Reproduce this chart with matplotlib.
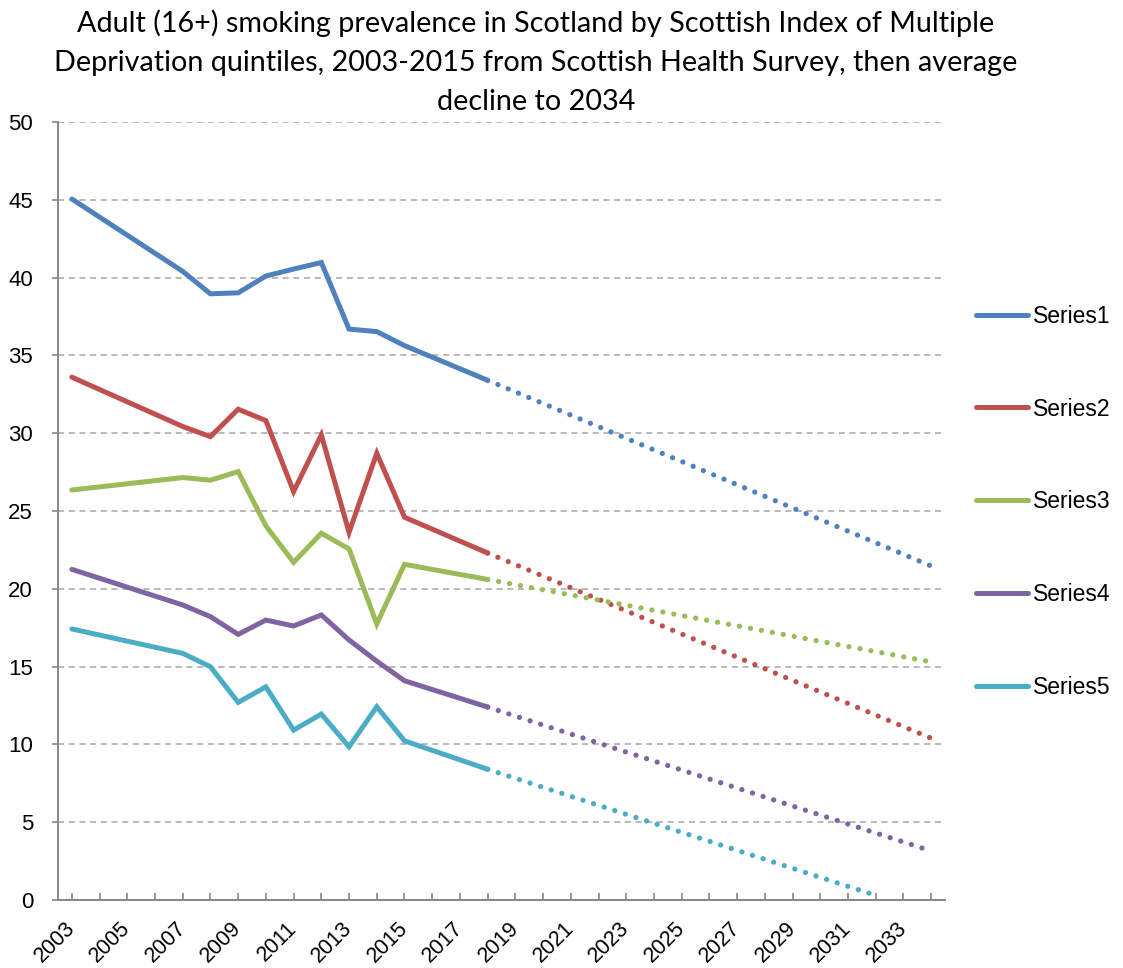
import numpy as np
import matplotlib
matplotlib.use("Agg")
import matplotlib.pyplot as plt

# Survey years (2003, then 2007-2015) plus the 2018 point where the projection starts
years = [2003, 2007, 2008, 2009, 2010, 2011, 2012, 2013, 2014, 2015, 2018]

series1 = [45.05, 40.4, 38.96, 39.02, 40.1, 40.55, 40.97, 36.69, 36.53, 35.63, 33.4]
series2 = [33.6, 30.43, 29.78, 31.54, 30.81, 26.25, 29.89, 23.63, 28.71, 24.6, 22.3]
series3 = [26.35, 27.15, 26.98, 27.53, 24.04, 21.7, 23.57, 22.56, 17.74, 21.57, 20.6]
series4 = [21.25, 18.96, 18.21, 17.07, 17.99, 17.61, 18.32, 16.71, 15.35, 14.09, 12.4]
series5 = [17.42, 15.85, 14.99, 12.7, 13.7, 10.92, 11.95, 9.85, 12.42, 10.23, 8.4]

# End of the average-decline projection for each quintile (year, value)
proj_end_year = [2034, 2034, 2034, 2034, 2032]
proj_end_value = [21.47, 10.4, 15.3, 3.15, 0.3]

names = ["Series1", "Series2", "Series3", "Series4", "Series5"]
colors = ["#4F81BD", "#C0504D", "#9BBB59", "#8064A2", "#4BACC6"]
all_series = [series1, series2, series3, series4, series5]

title = ("Adult (16+) smoking prevalence in Scotland by Scottish Index of Multiple\n"
         "Deprivation quintiles, 2003-2015 from Scottish Health Survey, then average\n"
         "decline to 2034")

fig = plt.figure(figsize=(11.23, 9.68), dpi=100)
ax = fig.add_axes([58 / 1123, 1 - 900 / 968, (945 - 58) / 1123, (900 - 122) / 968])

handles = []
for vals, ey, ev, name, col in zip(all_series, proj_end_year, proj_end_value, names, colors):
    # dotted projection from the last solid point
    ax.plot([years[-1], ey], [vals[-1], ev], color=col, lw=3.8,
            linestyle=(0, (0.01, 2.1)), dash_capstyle="round", zorder=2)
    h, = ax.plot(years, vals, color=col, lw=3.6, solid_capstyle="round",
                 solid_joinstyle="miter", label=name, zorder=3)
    handles.append(h)

ax.set_xlim(2002.5, 2034.5)
ax.set_ylim(0, 50)
ax.set_yticks(np.arange(0, 51, 5))
ax.set_xticks(np.arange(2003, 2035, 1), minor=False)
ax.set_xticklabels([str(y) if (y - 2003) % 2 == 0 else "" for y in range(2003, 2035)],
                   rotation=45, ha="right", va="center", rotation_mode="anchor")

ax.grid(axis="y", color="#A6A6A6", linestyle=(0, (4, 3)), linewidth=1.1)
ax.set_axisbelow(True)

for s in ["top", "right"]:
    ax.spines[s].set_visible(False)
for s in ["left", "bottom"]:
    ax.spines[s].set_color("#868686")
    ax.spines[s].set_linewidth(1.4)

ax.tick_params(axis="x", direction="in", length=5, width=1.2, color="#868686",
               labelsize=15.5, pad=18)
ax.tick_params(axis="y", direction="out", length=4, width=1.2, color="#868686",
               labelsize=16, pad=14)
for lab in ax.get_xticklabels() + ax.get_yticklabels():
    lab.set_fontfamily("Liberation Sans")

fig.text(536 / 1123, 1 - 9 / 968, title, ha="center", va="top",
         fontsize=20.7, family="Lato", linespacing=1.64)

fig.legend(handles=handles, loc="upper left", bbox_to_anchor=(955 / 1123, 1 - 284 / 968),
           frameon=False, prop={"family": "Liberation Sans", "size": 16.5},
           handlelength=2.3, handletextpad=0.2, labelspacing=3.05)

fig.savefig("out.png", dpi=100)
